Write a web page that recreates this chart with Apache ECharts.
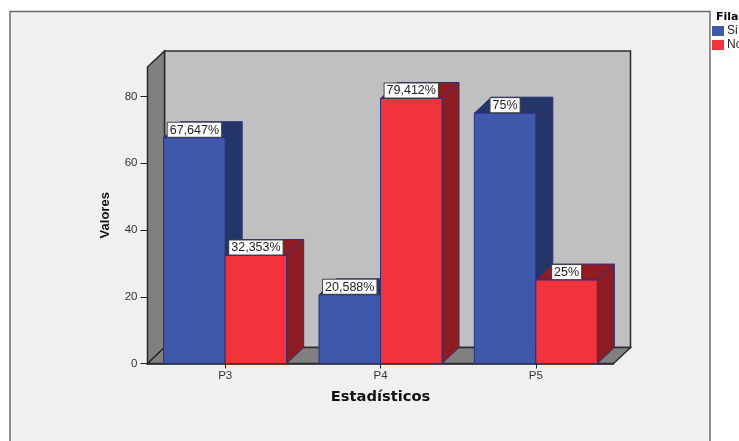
<!DOCTYPE html>
<html>
<head>
<meta charset="utf-8">
<style>html,body{margin:0;padding:0;background:#fff}#c{width:739px;height:441px}</style>
<script src="https://cdn.jsdelivr.net/npm/echarts@6/dist/echarts.min.js"></script>
</head>
<body>
<div id="c"></div>
<script>
const categories = ['P3', 'P4', 'P5'];
const si = [67.647, 20.588, 75];
const no = [32.353, 79.412, 25];
const yTicks = [0, 20, 40, 60, 80];

// Oblique depth of the pseudo-3D box, and each bar's share of a category band
const DEPTH_X = 17, DEPTH_Y = 16, BAR_SHARE = 0.396;
const EDGE = '#2c2f7c', WALL_EDGE = '#2a2a2a';

const chart = echarts.init(document.getElementById('c'), null, { renderer: 'canvas' });

const poly = (points, fill, stroke, lw) => ({
  type: 'polygon',
  shape: { points },
  style: { fill, stroke, lineWidth: lw === undefined ? 1 : lw }
});

// Back wall, left wall and floor of the box
function renderWalls(params) {
  const g = params.coordSys;
  const l = g.x, r = g.x + g.width, t = g.y, b = g.y + g.height;
  return {
    type: 'group',
    silent: true,
    children: [
      poly([[l + DEPTH_X, t - DEPTH_Y], [r + DEPTH_X, t - DEPTH_Y], [r + DEPTH_X, b - DEPTH_Y], [l + DEPTH_X, b - DEPTH_Y]], '#c0c0c0', WALL_EDGE, 1.5),
      poly([[l, t], [l + DEPTH_X, t - DEPTH_Y], [l + DEPTH_X, b - DEPTH_Y], [l, b]], '#808080', WALL_EDGE, 1.5),
      poly([[l, b], [l + DEPTH_X, b - DEPTH_Y], [r + DEPTH_X, b - DEPTH_Y], [r, b]], '#808080', WALL_EDGE, 1.5)
    ]
  };
}

// One oblique bar: front face, top, right side and a boxed value label
function barRenderer(offset, front, top, side) {
  return function (params, api) {
    const i = api.value(0), v = api.value(1);
    const base = api.coord([i, 0]);
    const head = api.coord([i, v]);
    const w = api.size([1, 0])[0] * BAR_SHARE;
    const x0 = base[0] + offset * w, x1 = x0 + w;
    const y0 = base[1], y1 = head[1];
    return {
      type: 'group',
      children: [
        poly([[x0, y1], [x0 + DEPTH_X, y1 - DEPTH_Y], [x1 + DEPTH_X, y1 - DEPTH_Y], [x1, y1]], top, EDGE),
        poly([[x1, y0], [x1 + DEPTH_X, y0 - DEPTH_Y], [x1 + DEPTH_X, y1 - DEPTH_Y], [x1, y1]], side, EDGE),
        poly([[x0, y0], [x1, y0], [x1, y1], [x0, y1]], front, EDGE),
        {
          type: 'text',
          z2: 10,
          x: (x0 + x1) / 2,
          y: y1 - 1,
          style: {
            text: String(v).replace('.', ',') + '%',
            fill: '#222222',
            font: '12.5px "Liberation Sans"',
            align: 'center',
            verticalAlign: 'bottom',
            backgroundColor: '#ffffff',
            borderColor: '#444444',
            borderWidth: 1,
            padding: [1, 2, 0, 2]
          }
        }
      ]
    };
  };
}

const encode = { x: 0, y: 1 };
const rows = values => values.map((v, i) => [i, v]);

chart.setOption({
  animation: false,
  backgroundColor: '#ffffff',
  graphic: [{
    type: 'rect',
    z: -10,
    silent: true,
    shape: { x: 10, y: 11.5, width: 700, height: 440 },
    style: { fill: '#f0f0f0', stroke: '#6e6e6e', lineWidth: 1.5 }
  }],
  title: {
    text: 'Fila',
    left: 716,
    top: 12,
    padding: 0,
    textStyle: { fontFamily: 'DejaVu Sans', fontWeight: 'bold', fontSize: 11, color: '#000000' }
  },
  legend: {
    data: ['Si', 'No'],
    left: 712,
    top: 25,
    padding: 0,
    orient: 'vertical',
    icon: 'rect',
    itemWidth: 12,
    itemHeight: 10,
    itemGap: 2,
    align: 'left',
    textStyle: { fontFamily: 'Liberation Sans', fontSize: 12, color: '#222222', padding: [0, 0, 0, -2] }
  },
  grid: { left: 147.5, right: 125.5, top: 67, bottom: 77.5 },
  xAxis: {
    type: 'category',
    data: categories,
    name: 'Estadísticos',
    nameLocation: 'middle',
    nameGap: 26,
    nameTextStyle: { fontFamily: 'DejaVu Sans', fontWeight: 'bold', fontSize: 14.7, color: '#111111' },
    axisLine: { lineStyle: { color: '#222222', width: 1.5 } },
    axisTick: { show: true, alignWithLabel: true, interval: 0, length: 5, lineStyle: { color: '#222222' }, customValues: [0, 1, 2] },
    axisLabel: { fontFamily: 'Liberation Sans', fontSize: 11.5, color: '#333333', margin: 6 }
  },
  yAxis: {
    type: 'value',
    min: 0,
    max: 88.84,
    name: 'Valores',
    nameLocation: 'middle',
    nameGap: 36,
    nameTextStyle: { fontFamily: 'Liberation Sans', fontWeight: 'bold', fontSize: 13, color: '#111111' },
    splitLine: { show: false },
    axisLine: { show: true, lineStyle: { color: '#222222', width: 1.5 } },
    axisTick: { show: true, length: 7, lineStyle: { color: '#222222' }, customValues: yTicks },
    axisLabel: { fontFamily: 'Liberation Sans', fontSize: 11.5, color: '#333333', margin: 10, customValues: yTicks }
  },
  series: [
    { type: 'custom', name: 'Walls', z: 1, silent: true, renderItem: renderWalls, data: [[0, 0]], encode, clip: false },
    { type: 'custom', name: 'Si', z: 2, itemStyle: { color: '#3e58ac', borderColor: EDGE }, renderItem: barRenderer(-1, '#3e58ac', '#243668', '#243668'), data: rows(si), encode, clip: false },
    { type: 'custom', name: 'No', z: 3, itemStyle: { color: '#f3333b', borderColor: EDGE }, renderItem: barRenderer(0, '#f3333b', '#8f1c22', '#8f1c22'), data: rows(no), encode, clip: false }
  ]
});
</script>
</body>
</html>
